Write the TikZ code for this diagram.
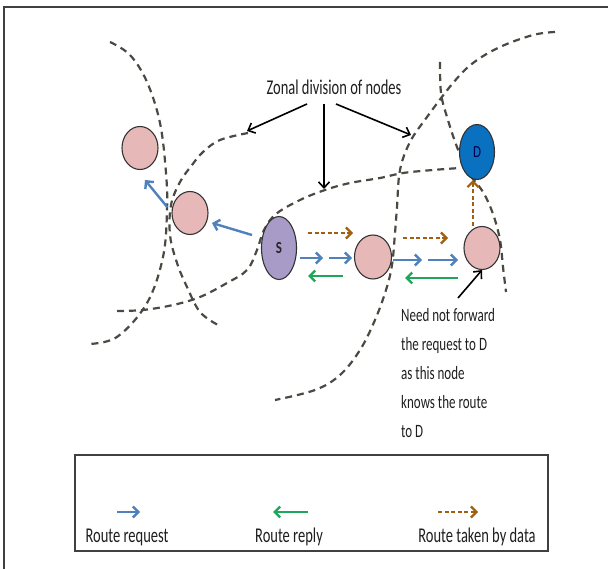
\documentclass[tikz,border=0pt]{standalone}
\usepackage{fontspec}
\setmainfont{Carlito}
\usetikzlibrary{arrows.meta,shapes.geometric}

\definecolor{zoneline}{HTML}{4A4A42}
\definecolor{pinkfill}{HTML}{E6B9B8}
\definecolor{sfill}{HTML}{A99BC8}
\definecolor{dfill}{HTML}{0A70C0}
\definecolor{reqblue}{HTML}{4F81BD}
\definecolor{repgreen}{HTML}{1EA65A}
\definecolor{databrown}{HTML}{A0600F}
\definecolor{inktext}{HTML}{1E1E1E}

% tall, narrow lettering
\newcommand{\tallText}[1]{\scalebox{1}[1.45]{#1}}

\tikzset{
  zone/.style={draw=zoneline, line width=2.2pt, dash pattern=on 7pt off 5pt},
  hostnode/.style={ellipse, draw=black!80, line width=1.1pt, inner sep=0pt},
  pinkhost/.style={hostnode, fill=pinkfill, minimum width=36pt, minimum height=43pt},
  tipbarb/.style={-{Straight Barb[length=5.5pt,width=11pt]}},
  req/.style={draw=reqblue, line width=2.4pt, tipbarb},
  rep/.style={draw=repgreen, line width=2.4pt, tipbarb},
  data/.style={draw=databrown, line width=2.2pt, dash pattern=on 4pt off 2.5pt, tipbarb},
  pointer/.style={draw=black, line width=1.6pt, -{Straight Barb[length=6pt,width=11pt]}},
  label/.style={text=inktext, font=\fontsize{14.5}{17}\selectfont, inner sep=0pt},
}

\begin{document}
\begin{tikzpicture}[x=1pt,y=-1pt]
\useasboundingbox (0,0) rectangle (608,569);

% page frame (top and left edges)
\draw[line width=1.8pt, draw=black!75] (4,569) -- (4,7) -- (608,7);

% zone boundaries
\draw[zone] plot[smooth, tension=0.6] coordinates {(110,42) (130,55) (147,82) (160,123) (166,173) (167,210) (163,257) (147,303) (117,337) (88,344)};
\draw[zone] plot[smooth, tension=0.6] coordinates {(248,133) (220,140) (203,152) (192,165) (180,182) (171,205) (170,235) (177,263) (187,287) (200,312) (218,325)};
\draw[zone] plot[smooth, tension=0.6] coordinates {(117,311) (143,310) (173,305) (200,297) (227,283) (247,270) (257,250) (264,230) (276,214) (300,200) (325,190) (350,183) (380,178) (403,173) (433,170) (460,168)};
\draw[zone] plot[smooth, tension=0.6] coordinates {(555,32) (533,35) (500,47) (473,63) (453,83) (427,117) (410,142) (400,170) (397,207) (395,233) (392,265) (386,290) (375,320) (360,350) (340,375) (315,390) (275,400)};
\draw[zone] plot[smooth, tension=0.6] coordinates {(440,62) (441,93) (447,117) (457,147) (468,172) (483,192) (493,214) (500,240) (503,267) (506,292)};

% hosts
\node[pinkhost] (p1) at (140,148) {};
\node[pinkhost] (p2) at (190,213) {};
\node[hostnode, fill=sfill, minimum width=35pt, minimum height=63pt,
      font=\bfseries\fontsize{13}{15}\selectfont, text=black!85] (S) at (279,248) {\scalebox{1}[1.3]{S}};
\node[pinkhost, minimum width=37pt, minimum height=44pt] (m) at (373,257) {};
\node[pinkhost] (r) at (482,248) {};
\node[hostnode, fill=dfill, minimum width=35pt, minimum height=55pt,
      font=\fontsize{13}{15}\selectfont, text=black!70!blue] (D) at (477,152) {\scalebox{1}[1.3]{D}};

% zone caption and its pointers
\node[label] (zonal) at (334,87) {\tallText{Zonal division of nodes}};
\coordinate (zl) at (247,131);
\coordinate (zm) at (324,189);
\coordinate (zr) at (411,135);
\draw[pointer] (307,104) -- (zl);
\draw[pointer] (324,104) -- (zm);
\draw[pointer] (336,104) -- (zr);

% route request, reply and data
\draw[req] ([shift={(-27,-13)}]S.center) -- ([shift={(22,10)}]p2.center);
\draw[req, shorten <=1pt] ([shift={(-22,-5)}]p2.center) -- ([shift={(5,32)}]p1.center);

\coordinate (qa1) at (300,258); \coordinate (qa2) at (323,258);
\coordinate (qb1) at (329,258); \coordinate (qb2) at (352,258);
\coordinate (qc1) at (393,260); \coordinate (qc2) at (422,260);
\coordinate (qd1) at (428,260); \coordinate (qd2) at (458,260);
\draw[req] (qa1) -- (qa2);
\draw[req] (qb1) -- (qb2);
\draw[req] (qc1) -- (qc2);
\draw[req] (qd1) -- (qd2);

\coordinate (ya1) at (343,276); \coordinate (ya2) at (308,276);
\coordinate (yb1) at (458,278); \coordinate (yb2) at (405,278);
\draw[rep] (ya1) -- (ya2);
\draw[rep] (yb1) -- (yb2);

\coordinate (da1) at (308,233); \coordinate (da2) at (353,233);
\coordinate (db1) at (403,238); \coordinate (db2) at (448,238);
\draw[data] (da1) -- (da2);
\draw[data] (db1) -- (db2);
\draw[data] ([xshift=-9pt]r.north) -- ([xshift=-4pt]D.south);

% note on the last hop
\node[label, anchor=north west, align=left, font=\fontsize{13}{29}\selectfont] (note) at (401,308)
  {\tallText{Need not forward}\\\tallText{the request to D}\\\tallText{as this node}\\\tallText{knows the route}\\\tallText{to D}};
\coordinate (notetip) at (458,298);
\draw[pointer] (notetip) -- (r.south);

% legend
\node[draw=black!75, line width=1.3pt, minimum width=473pt, minimum height=96pt, inner sep=0pt] (legend) at (311.5,503) {};
\coordinate (la1) at (117,512); \coordinate (la2) at (140,512);
\coordinate (lb1) at (308,512); \coordinate (lb2) at (273,512);
\coordinate (lc1) at (438,512); \coordinate (lc2) at (478,512);
\draw[req] (la1) -- (la2);
\draw[rep] (lb1) -- (lb2);
\draw[data] (lc1) -- (lc2);
\node[label] (lreq) at (127,537) {\tallText{Route request}};
\node[label] (lrep) at (289,537) {\tallText{Route reply}};
\node[label] (ldata) at (477,537) {\tallText{Route taken by data}};
\end{tikzpicture}
\end{document}
